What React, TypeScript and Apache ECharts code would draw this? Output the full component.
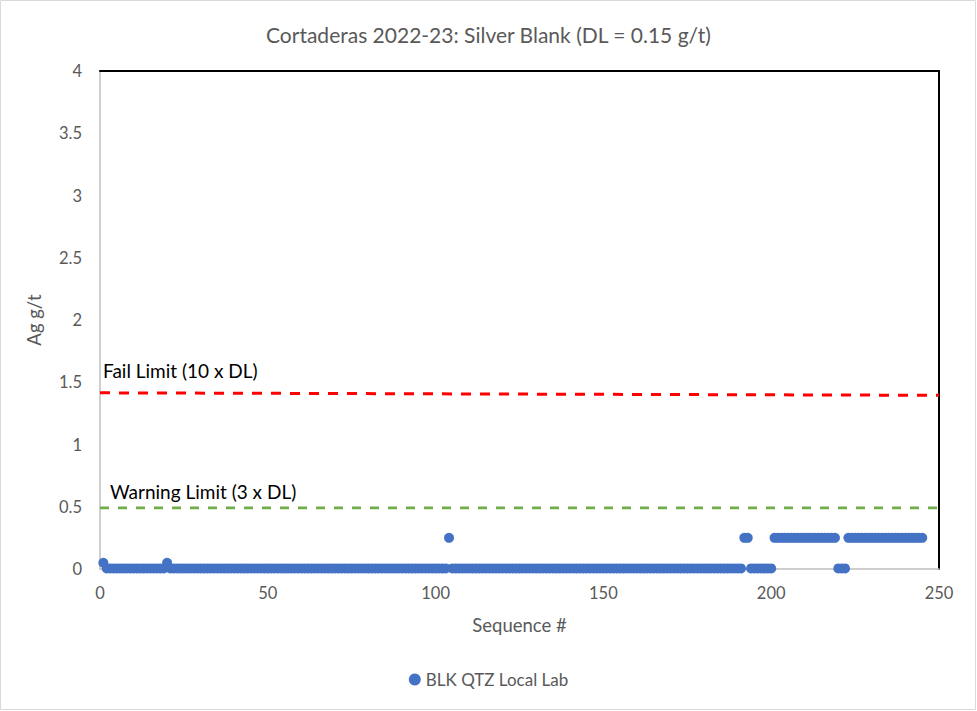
import React, { useEffect, useRef } from "react";
import * as echarts from "echarts";

const TITLE = "Cortaderas 2022-23: Silver Blank (DL = 0.15 g/t)";
const SERIES_NAME = "BLK QTZ Local Lab";
// runs of sequence numbers with their Ag value: [firstSeq, lastSeq, value]
const blankRuns: [number, number, number][] = [
  [1, 1, 0.05],
  [2, 19, 0.005],
  [20, 20, 0.05],
  [21, 103, 0.005],
  [104, 104, 0.25],
  [105, 191, 0.005],
  [192, 193, 0.25],
  [194, 200, 0.005],
  [201, 219, 0.25],
  [220, 222, 0.005],
  [223, 245, 0.25],
];
const failLimit: [number, number][] = [
  [0, 1.415],
  [250, 1.395],
];
const warningLimit: [number, number][] = [
  [0, 0.49],
  [250, 0.49],
];
const FAIL_LABEL = "Fail Limit (10 x DL)";
const WARN_LABEL = "Warning Limit (3 x DL)";

function buildPoints(): [number, number][] {
  const pts: [number, number][] = [];
  for (const [a, b, v] of blankRuns) {
    for (let s = a; s <= b; s++) pts.push([s, v]);
  }
  return pts;
}

export default function App() {
  const ref = useRef<HTMLDivElement>(null);
  useEffect(() => {
    document.body.style.margin = "0";
    const chart = echarts.init(ref.current!, null, { renderer: "svg" });
    const font = "Lato, 'Open Sans', sans-serif";
    const grey = "#595959";
    chart.setOption({
      animation: false,
      textStyle: { fontFamily: font },
      title: {
        text: TITLE,
        left: "center",
        top: 19,
        textStyle: { fontSize: 21, fontWeight: "normal", color: grey, fontFamily: font },
      },
      grid: { left: 100, right: 38, top: 71, bottom: 142, containLabel: false },
      legend: {
        bottom: 18,
        left: "center",
        icon: "circle",
        itemWidth: 12,
        itemHeight: 12,
        itemGap: 5,
        data: [SERIES_NAME],
        textStyle: { fontSize: 17, color: grey, fontFamily: font },
      },
      xAxis: [
        {
          type: "value",
          min: 0,
          max: 250,
          interval: 50,
          name: "Sequence #",
          nameLocation: "middle",
          nameGap: 46,
          nameTextStyle: { fontSize: 18.5, color: grey, fontFamily: font },
          axisLine: { show: true, onZero: false, lineStyle: { color: "#bfbfbf", width: 1.5 } },
          axisTick: { show: false },
          axisLabel: { fontSize: 16.5, color: grey, margin: 15, fontFamily: font },
          splitLine: { show: false },
        },
        {
          type: "value",
          position: "top",
          min: 0,
          max: 250,
          axisLine: { show: true, onZero: false, lineStyle: { color: "#000", width: 2 } },
          axisTick: { show: false },
          axisLabel: { show: false },
          splitLine: { show: false },
        },
      ],
      yAxis: [
        {
          type: "value",
          min: 0,
          max: 4,
          interval: 0.5,
          name: "Ag g/t",
          nameLocation: "middle",
          nameGap: 57,
          nameTextStyle: { fontSize: 18.5, color: grey, fontFamily: font },
          axisLine: { show: true, onZero: false, lineStyle: { color: "#bfbfbf", width: 1.5 } },
          axisTick: { show: false },
          axisLabel: { fontSize: 16.5, color: grey, margin: 18, fontFamily: font },
          splitLine: { show: false },
        },
        {
          type: "value",
          position: "right",
          min: 0,
          max: 4,
          axisLine: { show: true, onZero: false, lineStyle: { color: "#000", width: 2 } },
          axisTick: { show: false },
          axisLabel: { show: false },
          splitLine: { show: false },
        },
      ],
      series: [
        {
          name: "Fail",
          type: "line",
          data: failLimit,
          symbol: "none",
          lineStyle: { color: "#ff0000", width: 3, type: [10, 9] },
          z: 3,
          silent: true,
        },
        {
          name: "Warn",
          type: "line",
          data: warningLimit,
          symbol: "none",
          lineStyle: { color: "#70ad47", width: 2.75, type: [9, 9] },
          z: 3,
          silent: true,
        },
        {
          name: SERIES_NAME,
          type: "scatter",
          data: buildPoints(),
          symbol: "circle",
          symbolSize: 10,
          itemStyle: { color: "#4472c4", opacity: 1 },
          z: 4,
        },
      ],
      graphic: [
        {
          type: "text",
          left: 103,
          top: 361,
          style: { text: FAIL_LABEL, fontSize: 19, fill: "#000", fontFamily: font },
        },
        {
          type: "text",
          left: 110,
          top: 482,
          style: { text: WARN_LABEL, fontSize: 19, fill: "#000", fontFamily: font },
        },
        {
          type: "rect",
          shape: { x: 0.5, y: 0.5, width: 975, height: 709 },
          style: { fill: "none", stroke: "#d9d9d9", lineWidth: 1 },
          silent: true,
        },
      ],
    });
    return () => chart.dispose();
  }, []);
  return <div ref={ref} style={{ width: 977, height: 711 }} />;
}
